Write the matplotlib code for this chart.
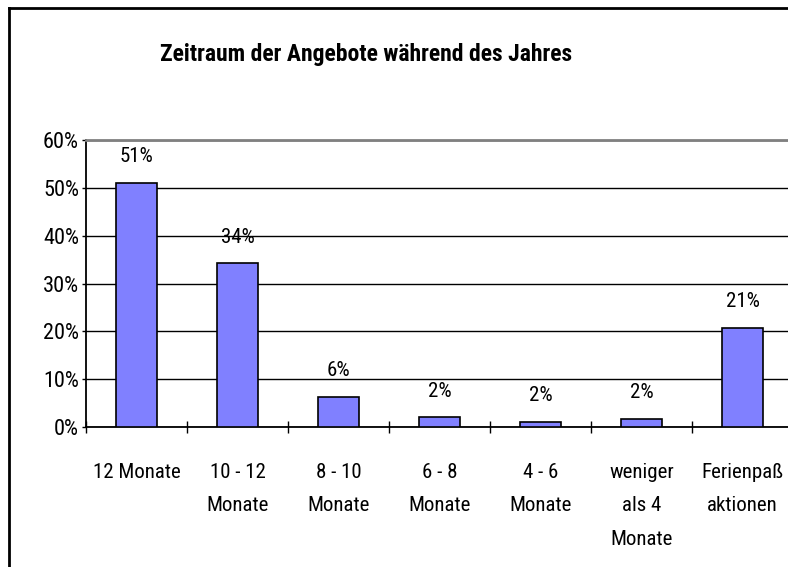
import matplotlib
matplotlib.use("Agg")
import matplotlib.pyplot as plt
from matplotlib.ticker import PercentFormatter, FixedLocator

plt.rcParams['font.family'] = ['Roboto Condensed', 'Archivo Narrow', 'Liberation Sans', 'DejaVu Sans']

kategorien = ['12 Monate', '10 - 12\nMonate', '8 - 10\nMonate', '6 - 8\nMonate',
              '4 - 6\nMonate', 'weniger\nals 4\nMonate', 'Ferienpaß\naktionen']
anteile = [0.51, 0.342, 0.062, 0.020, 0.011, 0.016, 0.208]
beschriftung = ['51%', '34%', '6%', '2%', '2%', '2%', '21%']

W, H = 788, 567
fig = plt.figure(figsize=(W / 100, H / 100), dpi=100)
ax = fig.add_axes([86 / W, 1 - 427 / H, (793 - 86) / W, (427 - 140) / H])

x = range(len(kategorien))
ax.bar(x, anteile, width=0.41, color='#8080FF', edgecolor='black', linewidth=1.2, zorder=3)
for xi, v, t in zip(x, anteile, beschriftung):
    ax.annotate(t, (xi, v), xytext=(0, 19), textcoords='offset points',
                ha='center', va='center', fontsize=15)

ax.set_xlim(-0.5, len(kategorien) - 0.5)
ax.set_ylim(0, 0.6)
ax.yaxis.set_major_formatter(PercentFormatter(1.0, decimals=0))
ax.set_yticks([i / 10 for i in range(7)])
ax.yaxis.grid(True, color='black', linewidth=1, zorder=0)
ax.tick_params(axis='y', direction='out', length=3, width=1, labelsize=16, pad=2)

ax.xaxis.set_major_locator(FixedLocator([i - 0.5 for i in range(len(kategorien) + 1)]))
ax.xaxis.set_minor_locator(FixedLocator(list(x)))
ax.set_xticklabels([], minor=False)
ax.set_xticklabels(kategorien, minor=True, fontsize=15, linespacing=1.95)
ax.tick_params(axis='x', which='major', direction='inout', length=9, width=1)
ax.tick_params(axis='x', which='minor', length=0, pad=26)

for s in ('left', 'bottom'):
    ax.spines[s].set_color('black')
    ax.spines[s].set_linewidth(1.3)
ax.spines['top'].set_color('#808080')
ax.spines['top'].set_linewidth(2)
ax.spines['right'].set_visible(False)

fig.text(366 / W, 1 - 54 / H, 'Zeitraum der Angebote während des Jahres',
         ha='center', va='center', fontsize=17, fontweight='bold')

# Rahmen des Diagrammbereichs (rechts und unten abgeschnitten)
fig.add_artist(plt.Line2D([8.5 / W, 8.5 / W], [0, 1 - 7.5 / H], color='black', lw=2))
fig.add_artist(plt.Line2D([8.5 / W, 1], [1 - 7.5 / H, 1 - 7.5 / H], color='black', lw=2))

fig.savefig('out.png', dpi=100)
